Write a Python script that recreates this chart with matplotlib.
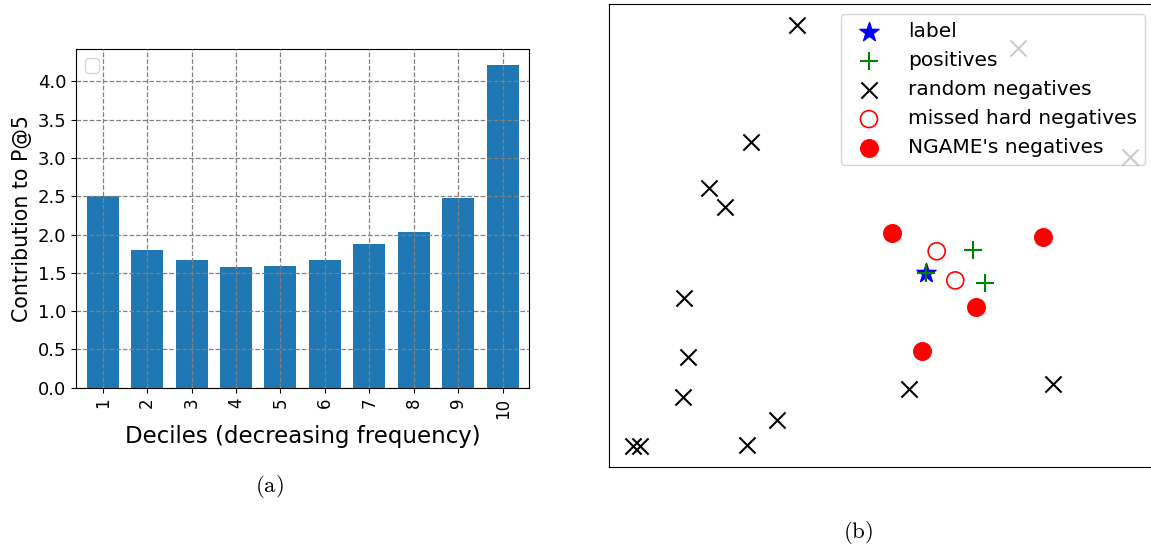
import matplotlib
matplotlib.use('Agg')
import matplotlib.pyplot as plt
import numpy as np

plt.rcParams['mathtext.fontset'] = 'cm'

# (a) contribution to P@5 per decile
deciles = ['1', '2', '3', '4', '5', '6', '7', '8', '9', '10']
contribution = [2.51, 1.80, 1.67, 1.58, 1.59, 1.67, 1.88, 2.04, 2.48, 4.21]

# (b) 2-d embedding sketch
label_x = [5.80]
label_y = [4.18]
pos_x = [5.80, 6.66, 6.88]
pos_y = [4.18, 4.69, 3.98]
rand_x = [3.44, 2.60, 1.84, 2.13, 1.37, 1.45, 1.36, 3.08, 2.53, 0.45, 0.57, 5.50, 8.12, 7.49, 9.53]
rand_y = [9.54, 7.01, 6.02, 5.61, 3.66, 2.37, 1.51, 1.01, 0.48, 0.46, 0.45, 1.69, 1.80, 9.04, 6.69]
missed_x = [6.00, 6.34]
missed_y = [4.66, 4.03]
ngame_x = [5.18, 7.95, 6.72, 5.74]
ngame_y = [5.05, 4.97, 3.45, 2.50]

fig = plt.figure(figsize=(11.51, 5.5), dpi=100)

# ---- left panel
ax1 = fig.add_axes([0.0660, 0.2951, 0.3939, 0.6153])
x = np.arange(1, len(deciles) + 1)
ax1.bar(x, contribution, width=0.72, color='#1f77b4')
ax1.set_xticks(x)
ax1.set_xticklabels(deciles, rotation=90, fontsize=12)
ax1.tick_params(axis='y', labelsize=13)
ax1.set_yticks(np.arange(0, 4.01, 0.5))
ax1.set_xlim(0.4, 10.6)
ax1.grid(True, color='gray', linestyle='--', linewidth=0.9)
ax1.set_axisbelow(False)
ax1.set_xlabel('Deciles (decreasing frequency)', fontsize=16.5, labelpad=5)
ax1.set_ylabel('Contribution to P@5', fontsize=14.8)
ax1.legend(handles=[], loc='upper left', fontsize=13)

# ---- right panel
ax2 = fig.add_axes([0.5288, 0.1509, 0.4750, 0.8418])
ax2.scatter(label_x, label_y, marker='*', s=210, color='blue', label='label', zorder=3)
ax2.scatter(pos_x, pos_y, marker='+', s=170, color='green', linewidths=1.5, label='positives', zorder=4)
ax2.scatter(rand_x, rand_y, marker='x', s=135, color='black', linewidths=1.5, label='random negatives')
ax2.scatter(missed_x, missed_y, marker='o', s=150, facecolors='none', edgecolors='red',
            linewidths=1.2, label='missed hard negatives')
ax2.scatter(ngame_x, ngame_y, marker='o', s=160, color='red', label="NGAME's negatives")
ax2.set_xlim(0, 10)
ax2.set_ylim(0, 10)
ax2.set_xticks([])
ax2.set_yticks([])
ax2.legend(loc='upper right', fontsize=14.5, handletextpad=0.95)

fig.text(269.5 / 1151, 1 - 486.5 / 550, r'$\mathrm{(a)}$', ha='center', va='center', fontsize=16.5)
fig.text(858 / 1151, 1 - 533 / 550, r'$\mathrm{(b)}$', ha='center', va='center', fontsize=16.5)

fig.savefig('out.png', dpi=100)
